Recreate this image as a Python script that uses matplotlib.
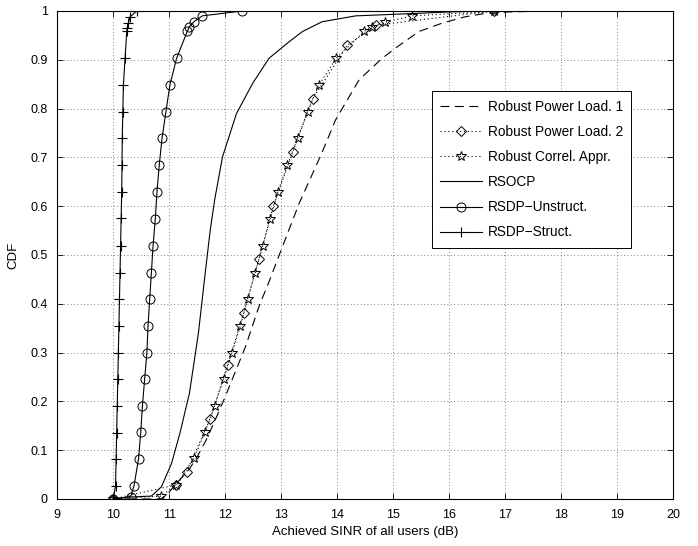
import matplotlib
matplotlib.use("Agg")
import matplotlib.pyplot as plt

plt.rcParams['font.family'] = ['Liberation Sans', 'DejaVu Sans']

# ---- data ----
# Robust Power Load. 1 (dashed, no markers)
rpl1_x = [10.0, 10.85, 10.98, 11.13, 11.35, 11.50, 11.66, 11.82, 12.00, 12.36, 12.60,
          12.78, 13.02, 13.32, 13.72, 13.97, 14.39, 14.80, 15.10, 15.46,
          15.87, 16.28, 16.64, 17.05, 17.77, 18.0]
rpl1_y = [0.0, 0.0, 0.012, 0.032, 0.06, 0.087, 0.121, 0.162, 0.21, 0.312, 0.394,
          0.445, 0.517, 0.606, 0.708, 0.777, 0.859, 0.903, 0.929, 0.958,
          0.975, 0.988, 0.995, 0.998, 1.0, 1.0]

# Robust Power Load. 2 (dotted, diamonds)
rpl2_x = [10.0, 11.12, 11.31, 11.73, 12.04, 12.33, 12.60, 12.86, 13.20, 13.56, 14.18, 14.70, 16.80]
rpl2_y = [0.0, 0.029, 0.056, 0.164, 0.274, 0.382, 0.491, 0.601, 0.710, 0.820, 0.930, 0.971, 1.0]

# Robust Correl. Appr. (dotted, stars)
rca_x = [10.0, 10.86, 11.12, 11.44, 11.64, 11.81, 11.97, 12.12, 12.27, 12.40, 12.53, 12.67,
         12.80, 12.94, 13.11, 13.29, 13.47, 13.67, 13.98, 14.48, 14.62, 14.85, 15.34, 16.80]
rca_y = [0.0, 0.006, 0.029, 0.083, 0.138, 0.191, 0.246, 0.300, 0.355, 0.410, 0.464, 0.519,
         0.574, 0.630, 0.684, 0.739, 0.794, 0.848, 0.903, 0.958, 0.968, 0.977, 0.990, 0.999]

# RSOCP (solid, no markers)
rsocp_x = [10.0, 10.30, 10.68, 10.86, 11.04, 11.19, 11.36, 11.52, 11.64, 11.73, 11.81,
           11.95, 12.20, 12.49, 12.78, 13.14, 13.38, 13.73, 14.33, 14.98, 16.00, 16.80]
rsocp_y = [0.0, 0.004, 0.006, 0.025, 0.073, 0.135, 0.217, 0.340, 0.462, 0.550, 0.613,
           0.701, 0.790, 0.852, 0.903, 0.937, 0.958, 0.978, 0.990, 0.993, 0.998, 1.0]

# RSDP-Unstruct. (solid, circles)
rsdpu_x = [10.0, 10.31, 10.37, 10.45, 10.49, 10.52, 10.56, 10.60, 10.62, 10.65, 10.68,
           10.71, 10.75, 10.78, 10.82, 10.87, 10.94, 11.01, 11.13, 11.32, 11.36, 11.44,
           11.59, 12.30]
rsdpu_y = [0.0, 0.005, 0.027, 0.082, 0.137, 0.191, 0.246, 0.300, 0.355, 0.410, 0.464,
           0.519, 0.574, 0.630, 0.684, 0.739, 0.794, 0.848, 0.903, 0.958, 0.968, 0.978,
           0.990, 1.0]

# RSDP-Struct. (solid, plus)
rsdps_x = [10.0, 10.04, 10.05, 10.06, 10.07, 10.08, 10.09, 10.10, 10.11, 10.12, 10.13,
           10.14, 10.15, 10.155, 10.16, 10.17, 10.18, 10.21, 10.24, 10.25, 10.27, 10.30, 10.42]
rsdps_y = [0.0, 0.027, 0.081, 0.136, 0.190, 0.245, 0.300, 0.354, 0.409, 0.464, 0.519,
           0.575, 0.630, 0.684, 0.739, 0.794, 0.848, 0.903, 0.958, 0.966, 0.975, 0.988, 1.0]

labels = ["Robust Power Load. 1", "Robust Power Load. 2", "Robust Correl. Appr.",
          "RSOCP", "RSDP\u2212Unstruct.", "RSDP\u2212Struct."]

x_ticks = list(range(9, 21))
y_ticks = [0, 0.1, 0.2, 0.3, 0.4, 0.5, 0.6, 0.7, 0.8, 0.9, 1]
y_tick_labels = ["0", "0.1", "0.2", "0.3", "0.4", "0.5", "0.6", "0.7", "0.8", "0.9", "1"]

# ---- figure ----
fig = plt.figure(figsize=(6.98, 5.46), dpi=100)
ax = fig.add_axes([0.0821, 0.0861, 0.8825, 0.8938])

lw = 0.8
ms = 6
dot = (0, (1, 2.5))
ax.plot(rpl1_x, rpl1_y, color='k', lw=lw, dashes=(8, 5), label=labels[0])
ax.plot(rpl2_x, rpl2_y, color='k', lw=lw, linestyle=dot, marker='D', markersize=ms * 0.85,
        markerfacecolor='none', markeredgewidth=0.7, label=labels[1])
ax.plot(rca_x, rca_y, color='k', lw=lw, linestyle=dot, marker='*', markersize=ms + 1.5,
        markerfacecolor='none', markeredgewidth=0.7, label=labels[2])
ax.plot(rsocp_x, rsocp_y, color='k', lw=lw, linestyle='-', label=labels[3])
ax.plot(rsdpu_x, rsdpu_y, color='k', lw=lw, linestyle='-', marker='o', markersize=ms + 0.5,
        markerfacecolor='none', markeredgewidth=0.7, label=labels[4])
ax.plot(rsdps_x, rsdps_y, color='k', lw=lw, linestyle='-', marker='+', markersize=ms + 1,
        markeredgewidth=0.8, label=labels[5])

ax.set_xlim(9, 20)
ax.set_ylim(0, 1)
ax.set_xticks(x_ticks)
ax.set_yticks(y_ticks)
ax.set_yticklabels(y_tick_labels)
ax.tick_params(direction='in', length=4, width=0.6, top=True, right=True, labelsize=9)
ax.tick_params(axis='x', pad=7)
ax.tick_params(axis='y', pad=7)
for s in ax.spines.values():
    s.set_linewidth(0.8)
ax.grid(True, color='0.35', linestyle=(0, (1, 3)), linewidth=0.6)

ax.set_xlabel("Achieved SINR of all users (dB)", fontsize=9.5, labelpad=4)
ax.set_ylabel("CDF", fontsize=9.5, labelpad=8)

leg = ax.legend(loc='upper left', bbox_to_anchor=(0.608, 0.835), borderaxespad=0,
                fontsize=9.8, handlelength=3.1, labelspacing=0.82, fancybox=False,
                framealpha=1, edgecolor='k', borderpad=0.6, handletextpad=0.4)
leg.get_frame().set_linewidth(0.7)

fig.savefig("out.png", dpi=100)
